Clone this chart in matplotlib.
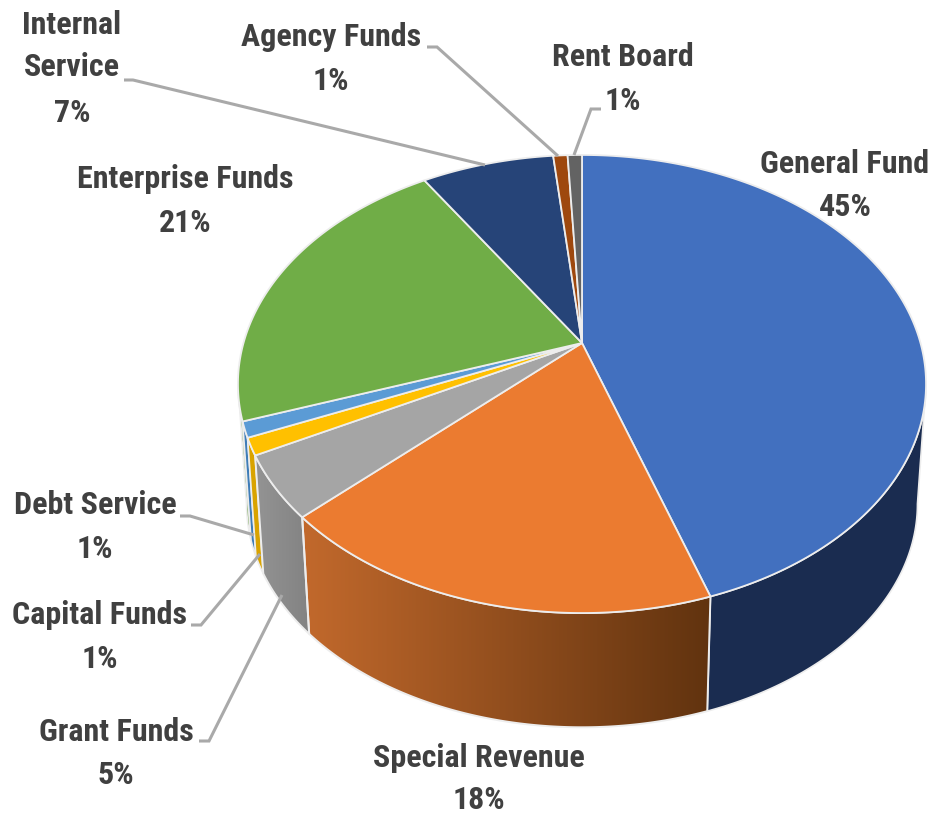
import numpy as np
import matplotlib
matplotlib.use("Agg")
import matplotlib.pyplot as plt
from matplotlib.patches import Polygon
from matplotlib.colors import LinearSegmentedColormap

fund_names = ["General Fund", "Special Revenue", "Grant Funds", "Capital Funds", "Debt Service",
              "Enterprise Funds", "Internal\nService", "Agency Funds", "Rent Board"]
fund_shares = [44.9, 18.0, 4.4, 1.2, 1.1, 21.4, 7.4, 0.8, 0.8]
printed_pct = ["45%", "18%", "5%", "1%", "1%", "21%", "7%", "1%", "1%"]

top_colors = ["#4270BF", "#EB7B30", "#A5A5A5", "#FFC000", "#5B9BD5", "#70AD47", "#264478", "#9E480E", "#636363"]
wall_colors = ["#1A2C50", ("#C2692C", "#61330F"), ("#949494", "#828282"), "#D9A300", "#3F7DB8", "#6A9F45",
               "#1A2C50", "#6A300A", "#444444"]

# ---- layout
CX, CY = 582.0, 343.0      # apex of the top face in pixels
RX, RY, PERSP = 338.5, 221.7, 0.179
WALL_SCALE, WALL_Y = 0.975, 464.0
TEXT = "#404040"
LEAD = "#A9A9A9"
EDGE = "#EDEDED"
FONT = ["Roboto Condensed", "Liberation Sans", "DejaVu Sans"]
FS = 23

label_xy = [(845, 164), (479, 758), (116, 732), (100, 615), (95, 505),
            (185, 179), (72, 46), (331, 37), (623, 57)]
pct_xy = [(845, 207), (479, 800), (116, 775), (100, 659), (95, 549),
          (185, 223), (72, 113), (331, 81), (623, 101)]
leaders = {
    "Debt Service": [(180, 516), (190, 516), (254, 535)],
    "Capital Funds": [(191, 625), (201, 625), (260, 554)],
    "Grant Funds": [(199, 741), (209, 741), (282, 595)],
    "Internal\nService": [(124, 80), (133, 80), (485, 165)],
    "Agency Funds": [(427, 47), (437, 47), (558, 156)],
    "Rent Board": [(601, 109), (591, 109), (574, 155)],
}
WALL_RIGHT_DEG, WALL_LEFT_DEG = 100.3, 259.7   # where the rim's silhouette turns


def top_rim(theta):
    """Perspective projection of the pie rim; theta clockwise from 12 o'clock."""
    u, v = np.sin(theta), np.cos(theta)
    d = 1 + PERSP * v
    return RX * u / d, -RY * v / d


def top_xy(theta):
    x, y = top_rim(theta)
    return np.column_stack([CX + x, CY + y])


def bottom_xy(theta):
    x, y = top_rim(theta)
    return np.column_stack([CX + WALL_SCALE * x, WALL_Y + WALL_SCALE * y])


fig = plt.figure(figsize=(9.33, 8.14), dpi=100)
ax = fig.add_axes([0, 0, 1, 1])
ax.set_xlim(0, 933)
ax.set_ylim(814, 0)
ax.axis("off")

edges = np.concatenate([[0], np.cumsum(fund_shares)]) / np.sum(fund_shares) * 2 * np.pi
n = len(fund_shares)


def wall_poly(a0, a1):
    t = np.linspace(a0, a1, 120)
    return np.vstack([top_xy(t), bottom_xy(t)[::-1]])


# walls: back to front
for i in [5, 4, 3, 2, 0, 1]:
    a0, a1 = edges[i], edges[i + 1]
    if i == 5:                # only the sliver up to the rim's left extreme shows
        a1 = np.radians(WALL_LEFT_DEG)
    if i == 0:                # front part only, from the rim's right extreme
        a0 = np.radians(WALL_RIGHT_DEG)
    pts = wall_poly(a0, a1)
    col = wall_colors[i]
    if isinstance(col, tuple):
        cmap = LinearSegmentedColormap.from_list("g", col)
        x0, x1 = pts[:, 0].min(), pts[:, 0].max()
        y0, y1 = pts[:, 1].min(), pts[:, 1].max()
        grad = np.linspace(0, 1, 256).reshape(1, -1)
        im = ax.imshow(grad, cmap=cmap, extent=(x0, x1, y1, y0), aspect="auto", zorder=2)
        im.set_clip_path(Polygon(pts, closed=True, transform=ax.transData))
        ax.add_patch(Polygon(pts, closed=True, facecolor="none", edgecolor=EDGE, lw=1.4, zorder=2.1))
    else:
        ax.add_patch(Polygon(pts, closed=True, facecolor=col, edgecolor=EDGE, lw=1.2, zorder=2))

ax.set_xlim(0, 933)
ax.set_ylim(814, 0)

# top faces
for i in range(n):
    t = np.linspace(edges[i], edges[i + 1], 160)
    pts = np.vstack([[CX, CY], top_xy(t)])
    ax.add_patch(Polygon(pts, closed=True, facecolor=top_colors[i], edgecolor=EDGE, lw=1.3,
                         joinstyle="round", zorder=3))

# leader lines
for pts in leaders.values():
    xs, ys = zip(*pts)
    ax.plot(xs, ys, color=LEAD, lw=2.2, solid_joinstyle="miter", solid_capstyle="butt", zorder=4)

# labels
for name, pct, (lx, ly), (px, py) in zip(fund_names, printed_pct, label_xy, pct_xy):
    ax.text(lx, ly, name, ha="center", va="center", fontsize=FS, fontweight="bold",
            family=FONT, color=TEXT, linespacing=1.47, zorder=5)
    ax.text(px, py, pct, ha="center", va="center", fontsize=FS, fontweight="bold",
            family=FONT, color=TEXT, zorder=5)

fig.savefig("out.png", dpi=100, facecolor="white")
